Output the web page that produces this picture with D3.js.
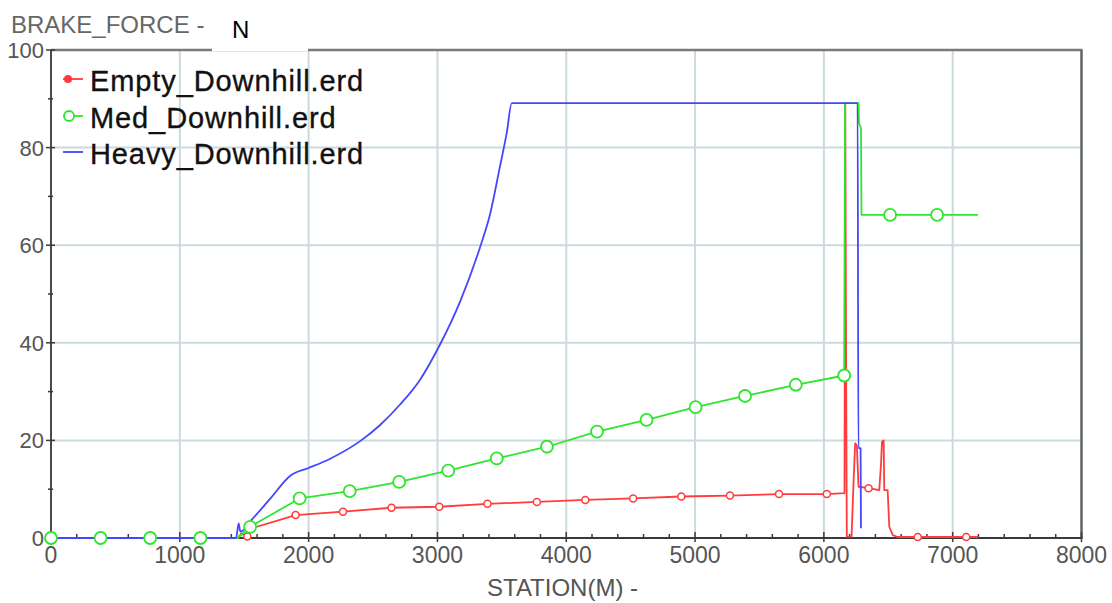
<!DOCTYPE html>
<html>
<head>
<meta charset="utf-8">
<script src="https://cdn.jsdelivr.net/npm/d3@7"></script>
<style>
  html, body { margin: 0; padding: 0; background: #fff; }
  svg { display: block; font-family: "Liberation Sans", Arial, sans-serif; }
</style>
</head>
<body>
<svg id="chart" width="1112" height="603"></svg>
<script>
// ---------------- DATA ----------------
const seriesNames = ["Empty_Downhill.erd", "Med_Downhill.erd", "Heavy_Downhill.erd"];
const xTickValues = [0, 1000, 2000, 3000, 4000, 5000, 6000, 7000, 8000];
const yTickValues = [0, 20, 40, 60, 80, 100];

// Empty_Downhill (red)
const emptyStation = [0, 1450, 1480, 1510, 1560, 1899, 2267, 2643, 3014, 3388, 3772, 4148, 4519, 4893, 5271, 5652, 6023, 6160,
  6166, 6172, 6178, 6215, 6231, 6243, 6256, 6269, 6347, 6430, 6444, 6451, 6464, 6469, 6495, 6508, 6535, 6573, 7200];
const emptyForce = [0, 0, 1.0, 0.3, 2.0, 4.7, 5.4, 6.2, 6.4, 7.0, 7.4, 7.8, 8.1, 8.5, 8.7, 9.0, 9.0, 9.2,
  89.1, 40, 0.3, 0.3, 11.9, 19.4, 19.0, 10.5, 10.2, 9.8, 15.3, 19.7, 20.0, 9.8, 9.8, 2.3, 0.6, 0.2, 0.2];
const emptyMarkStation = [1524, 1899, 2267, 2643, 3014, 3388, 3772, 4148, 4519, 4893, 5271, 5652, 6023, 6347, 6729, 7105];
const emptyMarkForce = [0.3, 4.7, 5.4, 6.2, 6.4, 7.0, 7.4, 7.8, 8.1, 8.5, 8.7, 9.0, 9.0, 10.2, 0.2, 0.2];

// Med_Downhill (green)
const medStation = [0, 385, 770, 1160, 1450, 1546, 1930, 2319, 2703, 3084, 3461, 3850, 4239, 4623, 5004, 5388, 5782, 6158,
  6164, 6270, 6272, 6288, 6292, 6514, 6879, 7196];
const medForce = [0, 0, 0, 0, 0, 2.3, 8.1, 9.6, 11.5, 13.8, 16.3, 18.7, 21.8, 24.2, 26.8, 29.1, 31.4, 33.3,
  89.1, 89.1, 85, 84, 66.2, 66.2, 66.2, 66.2];
const medMarkStation = [0, 385, 770, 1160, 1546, 1930, 2319, 2703, 3084, 3461, 3850, 4239, 4623, 5004, 5388, 5782, 6158, 6514, 6879];
const medMarkForce = [0, 0, 0, 0, 2.3, 8.1, 9.6, 11.5, 13.8, 16.3, 18.7, 21.8, 24.2, 26.8, 29.1, 31.4, 33.3, 66.2, 66.2];

// Heavy_Downhill (blue)
const heavyStation = [0, 1437, 1457, 1470, 1567, 1697, 1865, 1995, 2163, 2397, 2553, 2708, 2864, 3019, 3175, 3331, 3409, 3486,
  3538, 3577, 6262, 6268, 6285, 6288];
const heavyForce = [0, 0, 3.0, 1.3, 4.0, 7.9, 12.9, 14.3, 16.2, 19.8, 23.1, 27.3, 32.4, 39.6, 48.4, 59.6, 66.4, 76.2,
  83.0, 89.1, 89.1, 18.4, 18.4, 2.0];

// ---------------- CHART ----------------
(function () {
const svg = d3.select("#chart");
const W = 1112, H = 603;
const pLeft = 51, pRight = 1081.5, pTop = 50, pBottom = 538;

const x = d3.scaleLinear().domain([0, 8000]).range([pLeft, pRight]);
const y = d3.scaleLinear().domain([0, 100]).range([pBottom, pTop]);

const colors = { red: "#ff3c3c", green: "#2ee62e", blue: "#4646ff" };

svg.append("rect").attr("width", W).attr("height", H).attr("fill", "#fff");

// grid
const grid = svg.append("g");
grid.selectAll("line.vg").data(xTickValues.filter(v => v > 0 && v < 8000)).enter().append("line")
  .attr("x1", d => x(d)).attr("x2", d => x(d)).attr("y1", pTop).attr("y2", pBottom)
  .attr("stroke", "#cbdadd").attr("stroke-width", 2);
grid.selectAll("line.hg").data(yTickValues.filter(v => v > 0 && v < 100)).enter().append("line")
  .attr("x1", pLeft).attr("x2", pRight).attr("y1", d => y(d)).attr("y2", d => y(d))
  .attr("stroke", "#cbdadd").attr("stroke-width", 2);

// frame
svg.append("line").attr("x1", pLeft).attr("x2", pRight + 1).attr("y1", pTop).attr("y2", pTop)
  .attr("stroke", "#7a7a7a").attr("stroke-width", 2.5);
svg.append("line").attr("x1", pRight).attr("x2", pRight).attr("y1", pTop).attr("y2", pBottom)
  .attr("stroke", "#5f6566").attr("stroke-width", 2.5);
svg.append("line").attr("x1", pLeft).attr("x2", pLeft).attr("y1", pTop).attr("y2", pBottom + 1)
  .attr("stroke", "#4a4a4a").attr("stroke-width", 2);
svg.append("line").attr("x1", pLeft).attr("x2", pRight + 1).attr("y1", pBottom).attr("y2", pBottom)
  .attr("stroke", "#3a3a3a").attr("stroke-width", 2);

// ticks
const xMinor = x.ticks(40);
svg.append("g").selectAll("line").data(xMinor).enter().append("line")
  .attr("x1", d => x(d)).attr("x2", d => x(d))
  .attr("y1", d => (d % 1000 === 0) ? pBottom - 6 : pBottom - 4)
  .attr("y2", d => (d % 1000 === 0) ? pBottom + 4 : pBottom)
  .attr("stroke", "#3a3a3a").attr("stroke-width", 1.5);
const yMinor = y.ticks(10);
svg.append("g").selectAll("line").data(yMinor).enter().append("line")
  .attr("y1", d => y(d)).attr("y2", d => y(d))
  .attr("x1", d => (d % 20 === 0) ? pLeft - 5 : pLeft - 3)
  .attr("x2", d => (d % 20 === 0) ? pLeft + 4 : pLeft + 2)
  .attr("stroke", "#3a3a3a").attr("stroke-width", 1.5);

// tick labels
svg.append("g").selectAll("text").data(xTickValues).enter().append("text")
  .attr("x", d => x(d)).attr("y", 563)
  .attr("text-anchor", "middle").attr("font-size", 23).attr("fill", "#555")
  .text(d => d);
svg.append("g").selectAll("text").data(yTickValues).enter().append("text")
  .attr("x", 44).attr("y", d => y(d) + 8)
  .attr("text-anchor", "end").attr("font-size", 22).attr("fill", "#555")
  .text(d => d);

// titles
svg.append("text").attr("x", 11).attr("y", 33).attr("font-size", 24).attr("fill", "#666")
  .text("BRAKE_FORCE -");
svg.append("text").attr("x", 487).attr("y", 596).attr("font-size", 24).attr("fill", "#555")
  .text("STATION(M) -");
// unit box
svg.append("rect").attr("x", 212).attr("y", 0).attr("width", 96).attr("height", 51.5)
  .attr("fill", "#fff");
svg.append("line").attr("x1", 212).attr("x2", 308).attr("y1", 51.5).attr("y2", 51.5)
  .attr("stroke", "#e6e6e6").attr("stroke-width", 1);
svg.append("text").attr("x", 232).attr("y", 38).attr("font-size", 24).attr("fill", "#000").text("N");

// series lines
const line = d3.line().x(d => x(d[0])).y(d => y(d[1]));
const smoothLine = d3.line().x(d => x(d[0])).y(d => y(d[1])).curve(d3.curveMonotoneX);
const zip = (a, b) => a.map((v, i) => [v, b[i]]);

const gLines = svg.append("g").attr("fill", "none").attr("stroke-linejoin", "round");
gLines.append("path").datum(zip(emptyStation, emptyForce)).attr("d", line)
  .attr("stroke", colors.red).attr("stroke-width", 1.8);
gLines.append("path").datum(zip(medStation, medForce)).attr("d", line)
  .attr("stroke", colors.green).attr("stroke-width", 1.8);
gLines.append("path").datum(zip(heavyStation, heavyForce)).attr("d", smoothLine)
  .attr("stroke", colors.blue).attr("stroke-width", 1.8);

// markers
svg.append("g").selectAll("circle").data(zip(emptyMarkStation, emptyMarkForce)).enter().append("circle")
  .attr("cx", d => x(d[0])).attr("cy", d => y(d[1])).attr("r", 3.5)
  .attr("fill", "#fff").attr("stroke", colors.red).attr("stroke-width", 1.5);
svg.append("g").selectAll("circle").data(zip(medMarkStation, medMarkForce)).enter().append("circle")
  .attr("cx", d => x(d[0])).attr("cy", d => y(d[1])).attr("r", 6)
  .attr("fill", "#fff").attr("stroke", colors.green).attr("stroke-width", 1.8);

// legend
const legend = svg.append("g");
const rowY = [79, 116, 152];
const rowColor = [colors.red, colors.green, colors.blue];
seriesNames.forEach((name, i) => {
  legend.append("line").attr("x1", 63).attr("x2", 83).attr("y1", rowY[i]).attr("y2", rowY[i])
    .attr("stroke", rowColor[i]).attr("stroke-width", 1.8);
  if (i === 0) {
    legend.append("circle").attr("cx", 68).attr("cy", rowY[i]).attr("r", 4).attr("fill", rowColor[i]);
  } else if (i === 1) {
    legend.append("circle").attr("cx", 69).attr("cy", rowY[i]).attr("r", 5)
      .attr("fill", "#fff").attr("stroke", rowColor[i]).attr("stroke-width", 1.8);
  }
  legend.append("text").attr("x", 90).attr("y", rowY[i] + 12)
    .attr("font-size", 29).attr("letter-spacing", 0.9).attr("fill", "#111")
    .attr("stroke", "#111").attr("stroke-width", 0.35)
    .text(name);
});
})();
</script>
</body>
</html>
